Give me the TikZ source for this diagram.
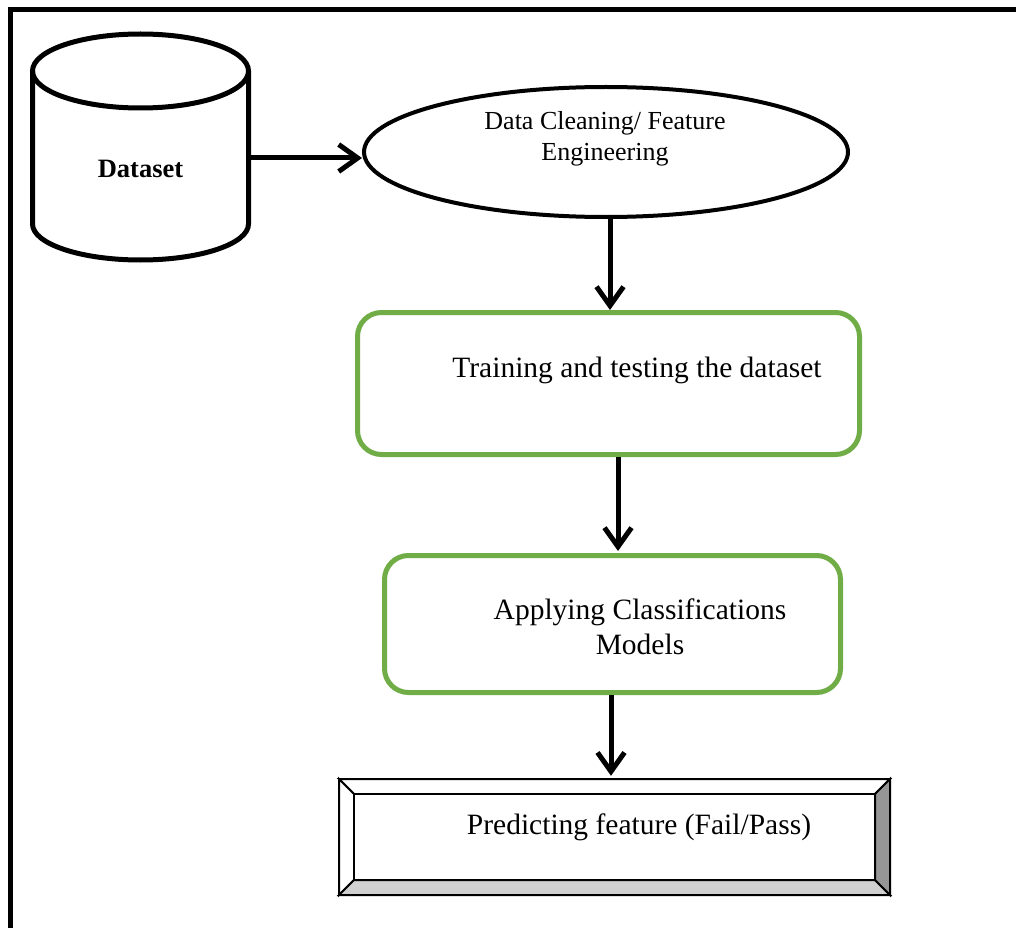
\documentclass[tikz,border=0pt]{standalone}
\usepackage{fontspec}
\setmainfont{Liberation Serif}
\usetikzlibrary{arrows.meta,shapes.geometric,calc}
\definecolor{boxgreen}{HTML}{70AD47}
\definecolor{bevelgray}{HTML}{D0D0D0}
\definecolor{beveldark}{HTML}{969696}
\tikzset{
  arr/.style={line width=5pt,-{Straight Barb[length=19pt,width=27pt]}},
  greenbox/.style={draw=boxgreen,line width=5pt,rounded corners=24pt,fill=white},
  lbl/.style={font=\fontsize{29.5}{35}\selectfont,align=center,inner sep=0pt},
  tlbl/.style={font=\fontsize{26}{31}\selectfont,align=center,inner sep=0pt},
}
\begin{document}
\begin{tikzpicture}[x=1pt,y=-1pt]
\useasboundingbox (0,0) rectangle (1016,928);
% frame
\draw[line width=5pt] (10.5,928) -- (10.5,9.5) -- (1016,9.5);
% cylinder
\draw[line width=5pt,fill=white] (32.5,71) -- (32.5,224) arc[start angle=180,end angle=0,x radius=108,y radius=36] -- (248.5,71);
\draw[line width=5pt] (140.5,71) ellipse[x radius=108,y radius=37];
\node[font=\fontsize{26.5}{31}\selectfont\bfseries,inner sep=0pt] (ds) at (140.5,169) {Dataset};
\coordinate (cylR) at (250,158);
% ellipse
\node[draw,line width=4pt,ellipse,minimum width=484pt,minimum height=130pt,inner sep=0pt] (ell) at (606,152) {};
\node[tlbl] (elltxt) at (605,139) {Data Cleaning/ Feature\\Engineering};
% green boxes
\node[greenbox,minimum width=502pt,minimum height=142pt] (box1) at (608.5,383.5) {};
\node[lbl] (t1) at (637,370) {Training and testing the dataset};
\node[greenbox,minimum width=456pt,minimum height=137pt] (box2) at (612.5,624) {};
\node[lbl] (t2) at (640,627) {Applying Classifications\\Models};
% bevel box
\node[inner sep=0pt,minimum width=551pt,minimum height=116pt] (pred) at (614.5,837) {};
\begin{scope}[line width=2pt,line join=miter]
\filldraw[fill=white] (339,779) -- (890,779) -- (875,794) -- (354,794) -- cycle;
\filldraw[fill=white] (339,779) -- (354,794) -- (354,880) -- (339,895) -- cycle;
\filldraw[fill=bevelgray] (339,895) -- (354,880) -- (875,880) -- (890,895) -- cycle;
\filldraw[fill=beveldark] (890,779) -- (890,895) -- (875,880) -- (875,794) -- cycle;
\draw[fill=white] (354,794) rectangle (875,880);
\end{scope}
\node[lbl] (t3) at (639,827) {Predicting feature (Fail/Pass)};
% arrows
\draw[arr] (cylR) -- (cylR -| ell.west);
\draw[arr] ([xshift=4pt]ell.south) -- ([xshift=4pt]ell.south |- box1.north);
\draw[arr] ([xshift=9.5pt]box1.south) -- ([xshift=9.5pt,yshift=2pt]box1.south |- box2.north);
\draw[arr] ([xshift=-1.5pt]box2.south) -- ([xshift=-1.5pt,yshift=3pt]box2.south |- pred.north);
\end{tikzpicture}
\end{document}
